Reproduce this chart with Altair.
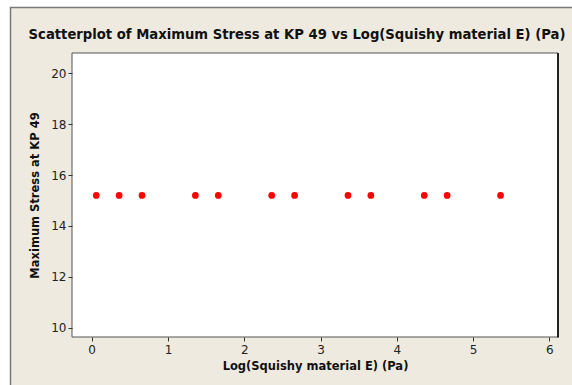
import altair as alt
import pandas as pd

# Data
x_vals = [0.06, 0.36, 0.66, 1.36, 1.66, 2.36, 2.66, 3.36, 3.66, 4.36, 4.66, 5.36]
y_vals = [15.2] * 12
x_ticks = [0, 1, 2, 3, 4, 5, 6]
y_ticks = [10, 12, 14, 16, 18, 20]

title_text = "Scatterplot of Maximum Stress at KP 49 vs Log(Squishy material E) (Pa)"
x_title = "Log(Squishy material E) (Pa)"
y_title = "Maximum Stress at KP 49"

df = pd.DataFrame({"x": x_vals, "y": y_vals})
one = pd.DataFrame({"a": [0]})

W, H = 486, 284
FONT = "DejaVu Sans"

xscale = alt.Scale(domain=[-0.258, 6.113], nice=False, zero=False)
yscale = alt.Scale(domain=[9.63, 20.8], nice=False, zero=False)

frame = alt.Chart(one).mark_rect(
    fill="#EEEAE0", stroke="#7a7a7a", strokeWidth=1.5
).encode(
    x=alt.value(-61.5), x2=alt.value(530), y=alt.value(-45.5), y2=alt.value(360)
)

plot_bg = alt.Chart(one).mark_rect(
    fill="white", stroke="#555555", strokeWidth=1
).encode(
    x=alt.value(0), x2=alt.value(W), y=alt.value(0), y2=alt.value(H)
)

right_edge = alt.Chart(one).mark_rule(color="#222222", strokeWidth=2).encode(
    x=alt.value(W), y=alt.value(0), y2=alt.value(H + 0.5)
)

points = alt.Chart(df).mark_circle(color="#FF0000", opacity=1, size=45).encode(
    x=alt.X("x:Q", scale=xscale,
            axis=alt.Axis(title=x_title, values=x_ticks, format="d", zindex=1,
                          domain=False, ticks=True, tickSize=4, tickColor="#333333",
                          labelFont=FONT, labelFontSize=12, labelColor="#222222",
                          labelPadding=3, grid=False,
                          titleFont=FONT, titleFontSize=11.5, titleFontWeight="bold",
                          titleColor="#111111", titlePadding=5)),
    y=alt.Y("y:Q", scale=yscale,
            axis=alt.Axis(title=y_title, values=y_ticks, format="d", zindex=1,
                          domain=False, ticks=True, tickSize=4, tickColor="#333333",
                          labelFont=FONT, labelFontSize=12, labelColor="#222222",
                          labelPadding=2, grid=False,
                          titleFont=FONT, titleFontSize=11.5, titleFontWeight="bold",
                          titleColor="#111111", titlePadding=10)),
)

chart = alt.layer(frame, plot_bg, right_edge, points).properties(
    width=W, height=H,
    title=alt.TitleParams(title_text, font=FONT, fontSize=13.2, fontWeight="bold",
                          color="#111111", anchor="middle", offset=-45.5,
                          baseline="alphabetic", dx=-18),
    padding={"left": 72, "top": 53, "right": 14, "bottom": 48},
    autosize=alt.AutoSizeParams(type="none"),
    background="white",
).configure_view(stroke=None)

chart.save("out.html", embed_options={"renderer": "svg", "actions": False})
